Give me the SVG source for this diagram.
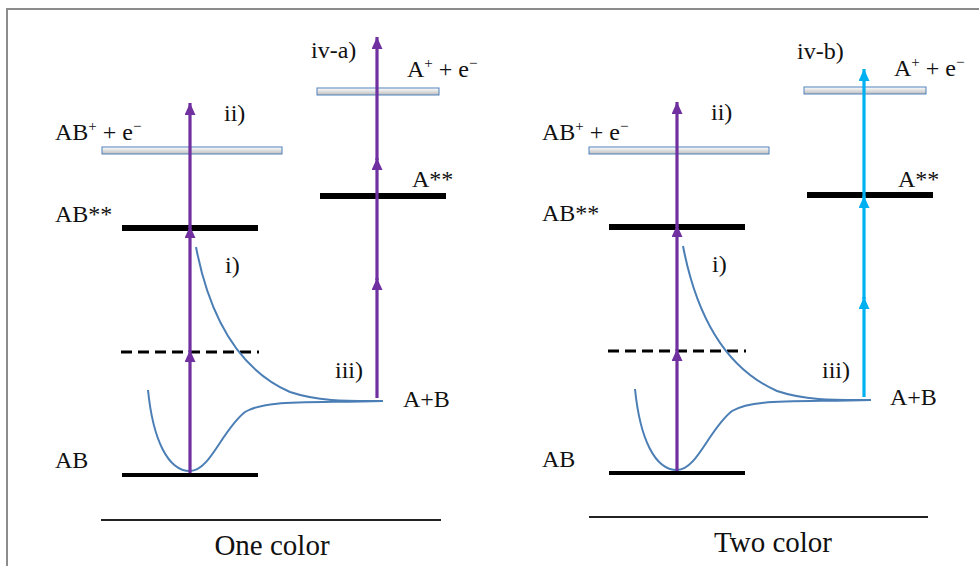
<svg xmlns="http://www.w3.org/2000/svg" width="979" height="566" viewBox="0 0 979 566">
<style>
text{font-family:"Liberation Serif","Tinos","DejaVu Serif",serif;fill:#111;font-size:24px}
.cap{font-size:29px}
.lvl{stroke:#000;stroke-width:6}
.gnd{stroke:#000;stroke-width:4}
.dash{stroke:#000;stroke-width:3;stroke-dasharray:11,6}
.ion{fill:url(#g);stroke:#4f81bd;stroke-width:1}
.pot{fill:none;stroke:#4a7eb5;stroke-width:2}
.pu{stroke:#7030a0;stroke-width:3.2;fill:none;marker-end:url(#ap)}
.cy{stroke:#00b0f0;stroke-width:3.2;fill:none;marker-end:url(#ac)}
.axis{stroke:#222;stroke-width:2}
.sup{font-size:15px}
</style>
<defs>
<linearGradient id="g" x1="0" y1="0" x2="0" y2="1"><stop offset="0" stop-color="#ffffff"/><stop offset="1" stop-color="#bdbdbd"/></linearGradient>
<marker id="ap" markerUnits="userSpaceOnUse" markerWidth="12" markerHeight="12" refX="12" refY="5.5" orient="auto"><path d="M0,0 L12,5.5 L0,11 z" fill="#7030a0"/></marker>
<marker id="ac" markerUnits="userSpaceOnUse" markerWidth="12" markerHeight="12" refX="12" refY="5.5" orient="auto"><path d="M0,0 L12,5.5 L0,11 z" fill="#00b0f0"/></marker>
</defs>
<rect width="979" height="566" fill="#fff"/>
<path d="M7,566 V9 H979" fill="none" stroke="#8c8c8c" stroke-width="2"/>

<g id="one-color">
 <g id="l-ionAB"><rect class="ion" x="102" y="147" width="180" height="7"/><text x="55" y="140">AB<tspan class="sup" dy="-9">+</tspan><tspan dy="9"> + e</tspan><tspan class="sup" dy="-9">−</tspan></text></g>
 <g id="l-ABss"><line class="lvl" x1="122" y1="228" x2="258" y2="228"/><text x="55" y="222">AB**</text></g>
 <g id="l-virt"><line class="dash" x1="121" y1="352" x2="259" y2="352"/></g>
 <g id="l-AB"><line class="gnd" x1="122" y1="475" x2="258" y2="475"/><text x="55" y="468">AB</text></g>
 <g id="l-ionA"><rect class="ion" x="317" y="88" width="122" height="7"/><text x="407" y="77">A<tspan class="sup" dy="-9">+</tspan><tspan dy="9"> + e</tspan><tspan class="sup" dy="-9">−</tspan></text></g>
 <g id="l-Ass"><line class="lvl" x1="320" y1="196" x2="446" y2="196"/><text x="412" y="187">A**</text></g>
 <g id="l-pot"><path class="pot" d="M148,390 C153,440 168,471 190,471 C210,471 222,430 245,412 C265,400 300,403 383,401"/><path class="pot" d="M196,247 C210,320 240,370 290,392 C320,402 350,401 383,401"/><text x="403" y="407">A+B</text></g>
 <g id="l-conn">
  <line class="pu" x1="190" y1="473" x2="190" y2="350"/>
  <line class="pu" x1="190" y1="352" x2="190" y2="226"/>
  <line class="pu" x1="190" y1="228" x2="190" y2="103"/>
  <line class="pu" x1="377" y1="398" x2="377" y2="278"/>
  <line class="pu" x1="377" y1="280" x2="377" y2="158"/>
  <line class="pu" x1="377" y1="160" x2="377" y2="37"/>
 </g>
 <text x="224" y="121">ii)</text>
 <text x="225" y="273">i)</text>
 <text x="335" y="378">iii)</text>
 <text x="311" y="58">iv-a)</text>
 <line class="axis" x1="101" y1="520" x2="441" y2="520"/>
 <text class="cap" x="272" y="555" text-anchor="middle">One color</text>
</g>

<g id="two-color">
 <g id="r-ionAB"><rect class="ion" x="589" y="147" width="180" height="7"/><text x="542" y="140">AB<tspan class="sup" dy="-9">+</tspan><tspan dy="9"> + e</tspan><tspan class="sup" dy="-9">−</tspan></text></g>
 <g id="r-ABss"><line class="lvl" x1="609" y1="227" x2="745" y2="227"/><text x="542" y="221">AB**</text></g>
 <g id="r-virt"><line class="dash" x1="608" y1="351" x2="746" y2="351"/></g>
 <g id="r-AB"><line class="gnd" x1="609" y1="473" x2="745" y2="473"/><text x="542" y="467">AB</text></g>
 <g id="r-ionA"><rect class="ion" x="804" y="87" width="122" height="7"/><text x="894" y="76">A<tspan class="sup" dy="-9">+</tspan><tspan dy="9"> + e</tspan><tspan class="sup" dy="-9">−</tspan></text></g>
 <g id="r-Ass"><line class="lvl" x1="807" y1="195" x2="933" y2="195"/><text x="898" y="187">A**</text></g>
 <g id="r-pot"><path class="pot" d="M635,389 C640,439 655,470 677,470 C697,470 709,429 732,411 C752,399 787,402 871,400"/><path class="pot" d="M683,246 C697,319 727,369 777,391 C807,401 837,400 871,400"/><text x="890" y="405">A+B</text></g>
 <g id="r-conn">
  <line class="pu" x1="677" y1="471" x2="677" y2="349"/>
  <line class="pu" x1="677" y1="351" x2="677" y2="225"/>
  <line class="pu" x1="677" y1="227" x2="677" y2="102"/>
  <line class="cy" x1="864" y1="397" x2="864" y2="297"/>
  <line class="cy" x1="864" y1="299" x2="864" y2="196"/>
  <line class="cy" x1="864" y1="198" x2="864" y2="69"/>
 </g>
 <text x="711" y="120">ii)</text>
 <text x="712" y="272">i)</text>
 <text x="822" y="378">iii)</text>
 <text x="797" y="59">iv-b)</text>
 <line class="axis" x1="589" y1="517" x2="928" y2="517"/>
 <text class="cap" x="773" y="552" text-anchor="middle">Two color</text>
</g>
</svg>
